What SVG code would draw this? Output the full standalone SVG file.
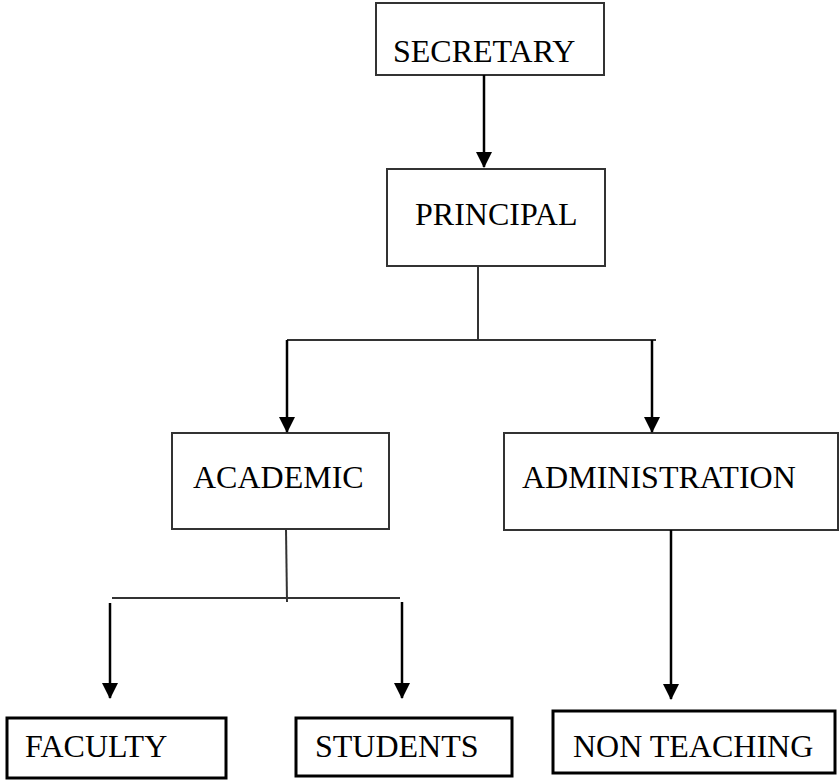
<svg xmlns="http://www.w3.org/2000/svg" width="840" height="781" viewBox="0 0 840 781">
<style>
  .box{fill:#fff;stroke:#333;stroke-width:2}
  .bbox{fill:#fff;stroke:#000;stroke-width:3}
  .lbl{font-family:"Liberation Serif","Times New Roman",serif;font-size:32px;fill:#000}
  .ln{stroke:#333;stroke-width:2;fill:none}
  .ar{stroke:#000;stroke-width:2.5;fill:none}
</style>
<defs>
  <marker id="ah" markerUnits="userSpaceOnUse" markerWidth="16" markerHeight="16" viewBox="0 0 16 16" refX="15" refY="8" orient="auto">
    <path d="M0,0 L16,8 L0,16 Z" fill="#000"/>
  </marker>
</defs>
<rect width="840" height="781" fill="#fff"/>
<g id="secretary"><rect class="box" x="376" y="3" width="228" height="72"/><text class="lbl" x="393" y="62">SECRETARY</text></g>
<g id="principal"><rect class="box" x="387" y="169" width="218" height="97"/><text class="lbl" x="415" y="225">PRINCIPAL</text></g>
<g id="academic"><rect class="box" x="172" y="433" width="217" height="96"/><text class="lbl" x="193" y="488">ACADEMIC</text></g>
<g id="administration"><rect class="box" x="504" y="433" width="334" height="97"/><text class="lbl" x="522" y="488">ADMINISTRATION</text></g>
<g id="faculty"><rect class="bbox" x="7" y="718" width="219" height="60"/><text class="lbl" x="25" y="757">FACULTY</text></g>
<g id="students"><rect class="bbox" x="296" y="718" width="216" height="58"/><text class="lbl" x="315" y="757">STUDENTS</text></g>
<g id="nonteaching"><rect class="bbox" x="553" y="711" width="282" height="62"/><text class="lbl" x="573" y="757">NON TEACHING</text></g>
<g id="connectors">
  <line class="ar" x1="484" y1="75" x2="484" y2="167" marker-end="url(#ah)"/>
  <line class="ln" x1="478" y1="266" x2="478" y2="340"/>
  <line class="ln" x1="287" y1="340" x2="656" y2="340"/>
  <line class="ar" x1="287" y1="340" x2="287" y2="432" marker-end="url(#ah)"/>
  <line class="ar" x1="652" y1="340" x2="652" y2="432" marker-end="url(#ah)"/>
  <line class="ln" x1="286" y1="529" x2="287" y2="602"/>
  <line class="ln" x1="112" y1="598" x2="400" y2="598"/>
  <line class="ar" x1="110" y1="603" x2="110" y2="698" marker-end="url(#ah)"/>
  <line class="ar" x1="402" y1="602" x2="402" y2="698" marker-end="url(#ah)"/>
  <line class="ar" x1="671" y1="530" x2="671" y2="699" marker-end="url(#ah)"/>
</g>
</svg>
